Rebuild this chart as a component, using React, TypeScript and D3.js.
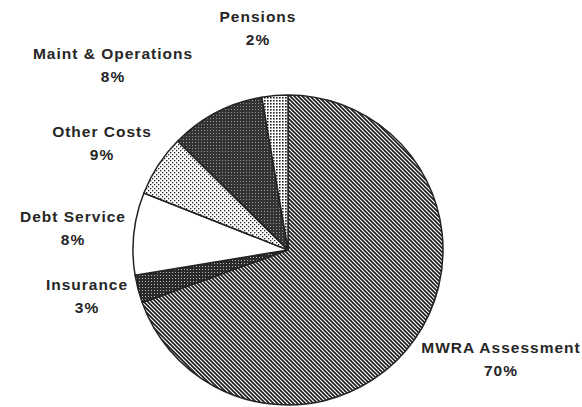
import React from "react";
import * as d3 from "d3";

const categories = ["MWRA Assessment", "Insurance", "Debt Service", "Other Costs", "Maint & Operations", "Pensions"];
const values = [69.5, 2.9, 8.6, 6.4, 9.9, 2.7];
const percentLabels = ["70%", "3%", "8%", "9%", "8%", "2%"];
const patternIds = ["pMwra", "pIns", "pDebt", "pOther", "pMaint", "pPens"];
const labelPos: [number, number][] = [
  [501, 353],
  [87, 290],
  [73, 222],
  [102, 137],
  [113, 59],
  [258, 22],
];

export default function App() {
  const W = 582, H = 407;
  const cx = 288, cy = 250, R = 155;
  const pie = d3.pie<number>().sort(null).value((d) => d).startAngle(0).endAngle(2 * Math.PI);
  const arcs = pie(values);
  const arc = d3.arc<d3.PieArcDatum<number>>().innerRadius(0).outerRadius(R);
  const font = "'Liberation Sans', Arial, sans-serif";
  return (
    <svg width={W} height={H} style={{ position: "absolute", left: 0, top: 0, background: "#fff" }}>
      <defs>
        <pattern id="pMwra" patternUnits="userSpaceOnUse" width={4} height={4}>
          <rect width={4} height={4} fill="#fff" />
          <path d="M-1,3 l2,2 M0,0 l4,4 M3,-1 l2,2" stroke="#1a1a1a" strokeWidth={1.6} />
        </pattern>
        <pattern id="pIns" patternUnits="userSpaceOnUse" width={3} height={3}>
          <rect width={3} height={3} fill="#2a2a2a" />
          <rect x={1} y={1} width={1} height={1} fill="#bbb" />
        </pattern>
        <pattern id="pDebt" patternUnits="userSpaceOnUse" width={4} height={4}>
          <rect width={4} height={4} fill="#fff" />
        </pattern>
        <pattern id="pOther" patternUnits="userSpaceOnUse" width={4} height={4}>
          <rect width={4} height={4} fill="#fff" />
          <rect x={0} y={0} width={1.3} height={1.3} fill="#222" />
          <rect x={2} y={2} width={1.3} height={1.3} fill="#222" />
        </pattern>
        <pattern id="pMaint" patternUnits="userSpaceOnUse" width={3} height={3}>
          <rect width={3} height={3} fill="#333" />
          <rect x={0} y={0} width={1} height={1} fill="#999" />
        </pattern>
        <pattern id="pPens" patternUnits="userSpaceOnUse" width={3} height={3}>
          <rect width={3} height={3} fill="#fff" />
          <rect x={0} y={0} width={1.6} height={1.6} fill="#222" />
        </pattern>
      </defs>
      <g transform={`translate(${cx},${cy})`}>
        {arcs.map((a, i) => (
          <path key={i} d={arc(a) || ""} fill={`url(#${patternIds[i]})`} stroke="#222" strokeWidth={1.5} strokeLinejoin="round" />
        ))}
      </g>
      {categories.map((c, i) => (
        <text key={c} x={labelPos[i][0]} y={labelPos[i][1]} textAnchor="middle" fontFamily={font} fontWeight="bold" fontSize={15.5} letterSpacing={1} fill="#262626">
          <tspan x={labelPos[i][0]}>{c}</tspan>
          <tspan x={labelPos[i][0]} dy={23}>{percentLabels[i]}</tspan>
        </text>
      ))}
    </svg>
  );
}
